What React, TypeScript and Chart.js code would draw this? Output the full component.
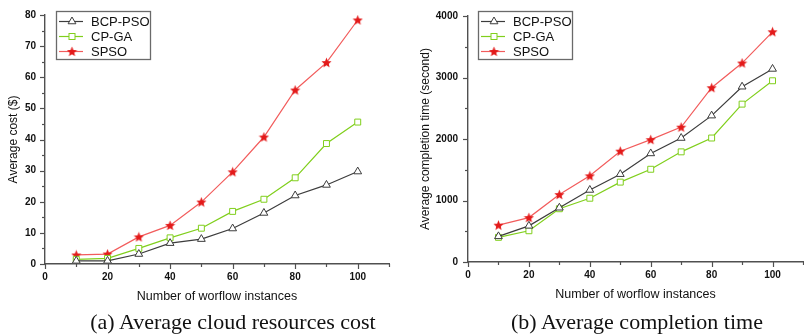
import React, { useEffect, useRef } from 'react';
import { Chart, registerables } from 'chart.js';

Chart.register(...registerables);

// ---- data ----
const instances = [10, 20, 30, 40, 50, 60, 70, 80, 90, 100];
const seriesNames = ['BCP-PSO', 'CP-GA', 'SPSO'];
const costBCPPSO = [1.0, 1.0, 3.2, 6.7, 8.0, 11.4, 16.4, 22.0, 25.4, 29.7];
const costCPGA = [1.5, 1.8, 5.0, 8.4, 11.5, 16.9, 20.8, 27.7, 38.7, 45.6];
const costSPSO = [2.9, 3.2, 8.7, 12.4, 19.9, 29.6, 40.8, 55.9, 64.7, 78.4];
const timeBCPPSO = [417, 588, 882, 1171, 1428, 1765, 2016, 2380, 2850, 3139];
const timeCPGA = [401, 508, 866, 1037, 1299, 1508, 1791, 2016, 2567, 2947];
const timeSPSO = [599, 722, 1096, 1401, 1802, 1989, 2193, 2834, 3235, 3743];
const xTitle = 'Number of worflow instances';
const costTitle = 'Average cost ($)';
const timeTitle = 'Average completion time (second)';
const captionA = '(a) Average cloud resources cost';
const captionB = '(b) Average completion time';

const AXIS = '#505050';
const C_BCP = '#3c3c3c';
const C_GA = '#80cf1c';
const C_SPSO_LINE = '#f25c5c';
const C_SPSO_MARK = '#e31a1a';
const SANS = '"Liberation Sans", Arial, sans-serif';

function makeStar(color: string, size: number) {
  const c = document.createElement('canvas');
  c.width = size;
  c.height = size;
  const ctx = c.getContext('2d')!;
  const cx = size / 2, cy = size / 2 + 0.4;
  const R = size / 2 - 0.2, r = R * 0.45;
  ctx.beginPath();
  for (let i = 0; i < 10; i++) {
    const ang = -Math.PI / 2 + (i * Math.PI) / 5;
    const rad = i % 2 === 0 ? R : r;
    const px = cx + Math.cos(ang) * rad, py = cy + Math.sin(ang) * rad;
    if (i === 0) ctx.moveTo(px, py); else ctx.lineTo(px, py);
  }
  ctx.closePath();
  ctx.fillStyle = color;
  ctx.fill();
  return c;
}

function drawMarker(ctx: CanvasRenderingContext2D, kind: number, x: number, y: number, star: HTMLCanvasElement) {
  ctx.save();
  ctx.lineWidth = 1;
  if (kind === 0) {
    const r = 4.5;
    ctx.beginPath();
    ctx.moveTo(x, y - r);
    ctx.lineTo(x + r * 0.866, y + r * 0.5);
    ctx.lineTo(x - r * 0.866, y + r * 0.5);
    ctx.closePath();
    ctx.fillStyle = '#fff';
    ctx.fill();
    ctx.strokeStyle = C_BCP;
    ctx.stroke();
  } else if (kind === 1) {
    ctx.fillStyle = '#fff';
    ctx.fillRect(x - 3, y - 3, 6, 6);
    ctx.strokeStyle = C_GA;
    ctx.strokeRect(x - 3, y - 3, 6, 6);
  } else {
    ctx.drawImage(star, x - star.width / 2, y - star.height / 2);
  }
  ctx.restore();
}

type PanelProps = {
  left: number;
  width: number;
  height: number;
  yMax: number;
  yMajor: number;
  yMinor: number;
  values: number[][];
  yTitle: string;
  area: { left: number; right: number; top: number; bottom: number };
  yTitlePad: number;
  xTitlePad: number;
  yTickPad: number;
  legend: { x: number; y: number; w: number; h: number };
};

function Panel(p: PanelProps) {
  const ref = useRef<HTMLCanvasElement | null>(null);
  useEffect(() => {
    if (!ref.current) return;
    const star = makeStar(C_SPSO_MARK, 11);
    const colors = [C_BCP, C_GA, C_SPSO_LINE];
    const styles: any[] = ['triangle', 'rect', star];
    const radii = [4.5, 4.2, 5.5];
    const datasets = seriesNames.map((name, i) => ({
      label: name,
      data: instances.map((x, k) => ({ x, y: p.values[i][k] })),
      borderColor: colors[i],
      backgroundColor: '#ffffff',
      borderWidth: 1.2,
      pointStyle: styles[i],
      pointRadius: radii[i],
      pointBorderWidth: 1,
      pointBorderColor: colors[i],
      pointBackgroundColor: '#ffffff',
      tension: 0,
      fill: false,
    }));

    const tickPlugin = {
      id: 'originTicks',
      afterDraw(chart: any) {
        const ctx = chart.ctx as CanvasRenderingContext2D;
        const xs = chart.scales.x, ys = chart.scales.y;
        ctx.save();
        ctx.strokeStyle = AXIS;
        ctx.lineWidth = 1.2;
        xs.ticks.forEach((t: any) => {
          const px = Math.round(xs.getPixelForValue(t.value)) + 0.5;
          const major = Math.abs(t.value % 20) < 1e-6;
          ctx.beginPath();
          ctx.moveTo(px, xs.top);
          ctx.lineTo(px, xs.top + (major ? 5 : 3));
          ctx.stroke();
        });
        ys.ticks.forEach((t: any) => {
          const py = Math.round(ys.getPixelForValue(t.value)) + 0.5;
          const major = Math.abs(t.value % p.yMajor) < 1e-6;
          ctx.beginPath();
          ctx.moveTo(ys.right, py);
          ctx.lineTo(ys.right - (major ? 5 : 3), py);
          ctx.stroke();
        });
        ctx.restore();
      },
    };

    const lg = p.legend;
    const legendPlugin = {
      id: 'boxLegend',
      afterDraw(chart: any) {
        const ctx = chart.ctx as CanvasRenderingContext2D;
        ctx.save();
        ctx.fillStyle = '#fff';
        ctx.fillRect(lg.x, lg.y, lg.w, lg.h);
        ctx.strokeStyle = '#6a6a6a';
        ctx.lineWidth = 1.3;
        ctx.strokeRect(lg.x + 0.5, lg.y + 0.5, lg.w, lg.h);
        const rows = [10, 25, 40];
        seriesNames.forEach((name, i) => {
          const y = lg.y + rows[i] + 0.5;
          ctx.strokeStyle = colors[i];
          ctx.lineWidth = 1.2;
          ctx.beginPath();
          ctx.moveTo(lg.x + 3, y);
          ctx.lineTo(lg.x + 27, y);
          ctx.stroke();
          drawMarker(ctx, i, lg.x + 16, y, star);
          ctx.fillStyle = '#111';
          ctx.font = `13px ${SANS}`;
          ctx.textBaseline = 'middle';
          ctx.textAlign = 'left';
          ctx.fillText(name, lg.x + 35, y + 0.5);
        });
        ctx.restore();
      },
    };

    const a = p.area;
    const chart = new Chart(ref.current, {
      type: 'line',
      data: { datasets } as any,
      plugins: [tickPlugin, legendPlugin],
      options: {
        animation: false,
        responsive: false,
        maintainAspectRatio: false,
        layout: { padding: { left: 0, top: a.top, right: p.width - a.right, bottom: 0 } },
        plugins: { legend: { display: false }, tooltip: { enabled: false } },
        scales: {
          x: {
            type: 'linear',
            min: 0,
            max: 110,
            afterFit: (s: any) => { s.height = p.height - a.bottom; },
            grid: { display: false, drawTicks: false, tickLength: 0 },
            border: { display: true, color: AXIS, width: 1.4 },
            ticks: {
              stepSize: 10,
              autoSkip: false,
              maxRotation: 0,
              padding: 7,
              color: '#111',
              font: { family: SANS, size: 10, weight: 'bold' },
              callback: (v: any) => (Number(v) % 20 === 0 && Number(v) <= 100 ? String(v) : ''),
            },
            title: {
              display: true,
              text: xTitle,
              color: '#111',
              font: { family: SANS, size: 12.5 },
              padding: { top: 0, bottom: p.xTitlePad },
            },
          },
          y: {
            type: 'linear',
            min: 0,
            max: p.yMax,
            afterFit: (s: any) => { s.width = a.left; },
            grid: { display: false, drawTicks: false, tickLength: 0 },
            border: { display: true, color: AXIS, width: 1.4 },
            ticks: {
              stepSize: p.yMinor,
              autoSkip: false,
              padding: p.yTickPad,
              color: '#111',
              font: { family: SANS, size: 10, weight: 'bold' },
              callback: (v: any) => (Number(v) % p.yMajor === 0 ? String(v) : ''),
            },
            title: {
              display: true,
              text: p.yTitle,
              color: '#111',
              font: { family: SANS, size: 12 },
              padding: { top: p.yTitlePad, bottom: 0 },
            },
          },
        },
      } as any,
    });
    return () => chart.destroy();
  }, []);
  return (
    <canvas
      ref={ref}
      width={p.width}
      height={p.height}
      style={{ position: 'absolute', left: p.left, top: 0, width: p.width, height: p.height }}
    />
  );
}

export default function App() {
  const capStyle: React.CSSProperties = {
    position: 'absolute',
    top: 311,
    fontFamily: '"Liberation Serif", "Times New Roman", serif',
    fontSize: 22,
    lineHeight: '22px',
    textAlign: 'center',
    color: '#111',
    whiteSpace: 'nowrap',
  };
  return (
    <div style={{ position: 'fixed', left: 0, top: 0, width: 804, height: 336, overflow: 'hidden', background: '#fff' }}>
      <Panel
        left={0}
        width={400}
        height={310}
        yMax={80}
        yMajor={10}
        yMinor={5}
        values={[costBCPPSO, costCPGA, costSPSO]}
        yTitle={costTitle}
        area={{ left: 45, right: 389, top: 12, bottom: 264 }}
        yTitlePad={6}
        xTitlePad={6}
        yTickPad={9}
        legend={{ x: 56, y: 11, w: 94, h: 48 }}
      />
      <Panel
        left={400}
        width={410}
        height={310}
        yMax={4000}
        yMajor={1000}
        yMinor={500}
        values={[timeBCPPSO, timeCPGA, timeSPSO]}
        yTitle={timeTitle}
        area={{ left: 68, right: 407, top: 12, bottom: 262 }}
        yTitlePad={18}
        xTitlePad={8}
        yTickPad={10}
        legend={{ x: 78, y: 11, w: 94, h: 48 }}
      />
      <div style={{ ...capStyle, left: 33, width: 400 }}>{captionA}</div>
      <div style={{ ...capStyle, left: 437, width: 400 }}>{captionB}</div>
    </div>
  );
}
